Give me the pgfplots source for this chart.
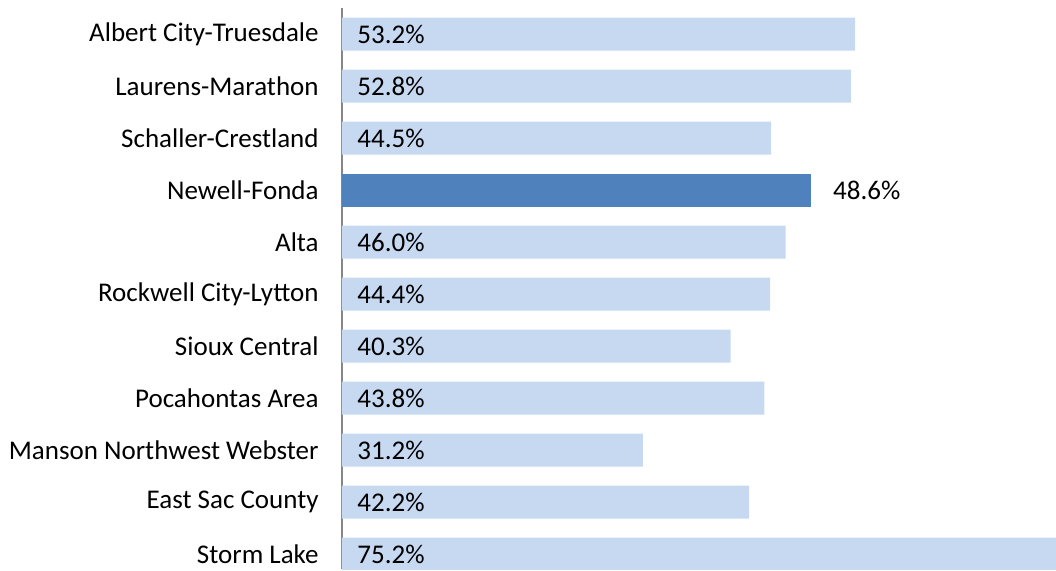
\documentclass[border=0pt]{standalone}
\usepackage{fontspec}
\setmainfont{Carlito}
\usepackage{pgfplots}
\usepackage{pgfplotstable}
\pgfplotsset{compat=1.18}
\definecolor{lightbar}{HTML}{C6D9F1}
\definecolor{darkbar}{HTML}{4F81BD}
\definecolor{axgray}{HTML}{868686}
\pgfplotstableread{
y v
10 53.2
9 52.8
8 44.5
6 46.0
5 44.4
4 40.3
3 43.8
2 31.2
1 42.2
0 75.2
}\others
\pgfplotstableread{
y v
7 48.6
}\highlight
\begin{document}
\begin{tikzpicture}
\begin{axis}[name=ax,
  scale only axis, width=357pt, height=280.5pt,
  xmin=0, xmax=74.03, ymin=-0.288, ymax=10.5,
  hide x axis,
  axis y line*=left,
  y axis line style={axgray, line width=1pt},
  ytick={0,...,10},
  yticklabels={Storm Lake, East Sac County, Manson Northwest Webster, Pocahontas Area, Sioux Central, Rockwell City-Lytton, Alta, Newell-Fonda, Schaller-Crestland, Laurens-Marathon, Albert City-Truesdale},
  ytick style={draw=none},
  yticklabel style={font=\fontsize{13.5}{16}\selectfont, inner sep=0pt, xshift=-11.5pt},
  /pgf/number format/assume math mode=true,
]
\addplot[xbar, bar shift=0pt, bar width=16.5pt, draw=none, fill=lightbar] table[x=v, y=y] {\others};
\addplot[xbar, bar shift=0pt, bar width=16.5pt, draw=none, fill=darkbar,
  nodes near coords={\pgfmathprintnumber[fixed, fixed zerofill, precision=1]{\pgfplotspointmeta}\%},
  point meta=x,
  every node near coord/.append style={anchor=west, inner sep=0pt, xshift=11pt, font=\fontsize{13.5}{16}\selectfont, text=black}] table[x=v, y=y] {\highlight};
\addplot[only marks, mark=none,
  nodes near coords={\pgfmathprintnumber[fixed, fixed zerofill, precision=1]{\pgfplotspointmeta}\%},
  point meta=explicit,
  every node near coord/.append style={anchor=west, inner sep=0pt, xshift=2.5pt, font=\fontsize{13.5}{16}\selectfont, text=black}] table[x expr=1.04, y=y, meta=v] {\others};
\end{axis}
\path[use as bounding box] ([xshift=-171pt]ax.south west) rectangle ([yshift=4pt]ax.north east);
\end{tikzpicture}
\end{document}
